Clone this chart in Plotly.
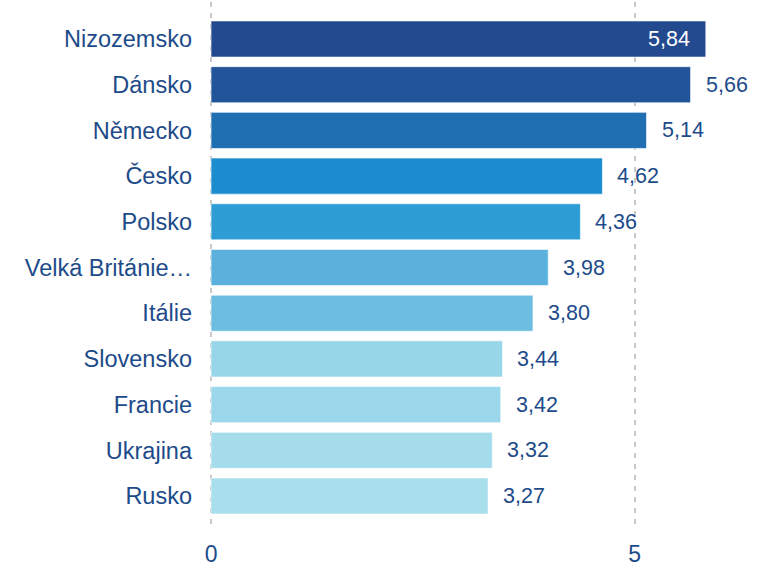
import plotly.graph_objects as go

categories = ["Nizozemsko", "Dánsko", "Německo", "Česko", "Polsko", "Velká Británie…",
              "Itálie", "Slovensko", "Francie", "Ukrajina", "Rusko"]
values = [5.84, 5.66, 5.14, 4.62, 4.36, 3.98, 3.80, 3.44, 3.42, 3.32, 3.27]
value_labels = ["5,84", "5,66", "5,14", "4,62", "4,36", "3,98", "3,80", "3,44", "3,42", "3,32", "3,27"]
colors = ["#234a8f", "#22549a", "#1f6fb2", "#1b8dcf", "#2f9dd5", "#5ab2dc",
          "#6cbde0", "#97d5e9", "#9ad7ea", "#a5dcec", "#a9dfec"]
inside_flags = [True] + [False] * 10

TEXT = "#1d4b8a"
FONT = "Liberation Sans, Arial, sans-serif"

fig = go.Figure()
fig.add_trace(go.Bar(
    x=values, y=categories, orientation="h",
    marker=dict(color=colors, line=dict(color="rgba(255,255,255,0.6)", width=1)),
    hoverinfo="skip",
))

annotations = []
for c, v, lab, ins in zip(categories, values, value_labels, inside_flags):
    annotations.append(dict(
        x=v, y=c, xref="x", yref="y", text=lab, showarrow=False,
        xanchor="right" if ins else "left",
        xshift=-14 if ins else 13,
        font=dict(family=FONT, size=21.5, color="white" if ins else TEXT),
    ))

fig.update_layout(
    width=758, height=573,
    margin=dict(l=209, r=0, t=2, b=43),
    paper_bgcolor="white", plot_bgcolor="white",
    bargap=0.21, showlegend=False,
    annotations=annotations,
    font=dict(family=FONT, color=TEXT),
)
fig.update_xaxes(
    range=[-0.024, 6.456], tickvals=[0, 5], ticktext=["0", "5"], automargin=False,
    showgrid=True, gridcolor="#c8c8c8", gridwidth=2, griddash="5px,6px",
    zeroline=False, showline=False, ticks="",
    tickfont=dict(family=FONT, size=23, color=TEXT), ticklabelstandoff=8,
)
fig.update_yaxes(
    type="category", categoryorder="array", categoryarray=categories, automargin=False,
    range=[10.744, -0.81], showgrid=False, zeroline=False, showline=False, ticks="",
    tickfont=dict(family=FONT, size=23.5, color=TEXT), ticklabelstandoff=16,
)

fig.write_html("out.html", config={"displayModeBar": False},
               post_script="document.body.style.margin='0';document.body.style.overflow='hidden';")
